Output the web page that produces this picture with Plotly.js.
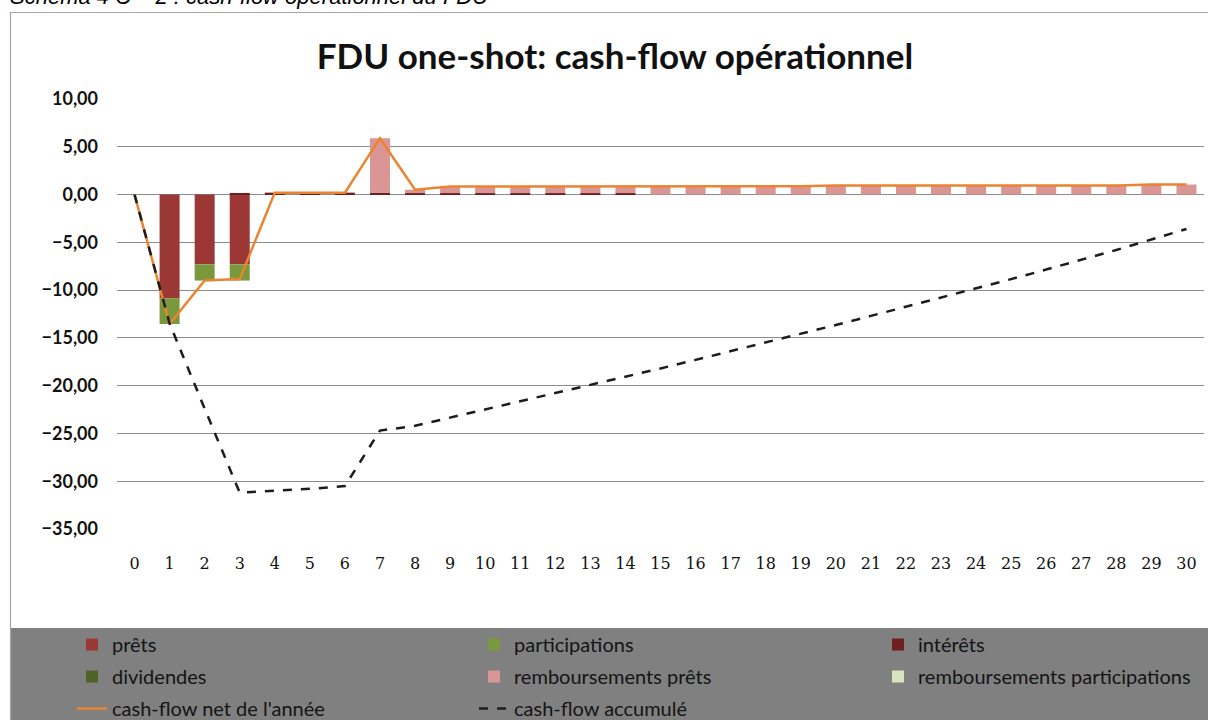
<!DOCTYPE html>
<html>
<head>
<meta charset="utf-8">
<script src="https://cdn.plot.ly/plotly-3.0.1.min.js"></script>
<style>
  html, body { margin: 0; padding: 0; background: #ffffff; }
  #chart { width: 1208px; height: 720px; }
</style>
</head>
<body>
<div id="chart"></div>
<script>
// ---- data ----
const years = [0,1,2,3,4,5,6,7,8,9,10,11,12,13,14,15,16,17,18,19,20,21,22,23,24,25,26,27,28,29,30];
const prets = [0,-10.85,-7.3,-7.3,0,0,0,0,0,0,0,0,0,0,0,0,0,0,0,0,0,0,0,0,0,0,0,0,0,0,0];
const participations = [0,-2.7,-1.7,-1.7,0,0,0,0,0,0,0,0,0,0,0,0,0,0,0,0,0,0,0,0,0,0,0,0,0,0,0];
const interets = [0,0,0,0.15,0.2,0.2,0.2,0.2,0.15,0.15,0.15,0.15,0.15,0.15,0.15,0,0,0,0,0,0,0,0,0,0,0,0,0,0,0,0];
const dividendes = [0,0,0,0,0,0,0,0,0,0,0,0,0,0,0,0,0,0,0,0,0,0,0,0,0,0,0,0,0,0,0];
const rembPrets = [0,0,0,0,0,0,0,5.7,0.35,0.7,0.7,0.7,0.7,0.7,0.7,0.85,0.85,0.85,0.85,0.85,0.92,0.92,0.92,0.92,0.92,0.92,0.92,0.92,0.92,1.05,1.05];
const rembParticipations = [0,0,0,0,0,0,0,0,0,0,0,0,0,0,0,0,0,0,0,0,0,0,0,0,0,0,0,0,0,0,0];
const cashFlowNet = [0,-13.55,-9.0,-8.85,0.2,0.2,0.2,5.9,0.5,0.85,0.85,0.85,0.85,0.85,0.85,0.87,0.87,0.87,0.87,0.87,0.95,0.95,0.95,0.95,0.95,0.95,0.95,0.95,0.95,1.05,1.05];
const cashFlowCumul = [0,-13.5,-22.4,-31.2,-31.0,-30.8,-30.5,-24.7,-24.2,-23.35,-22.5,-21.65,-20.8,-19.95,-19.1,-18.2,-17.3,-16.4,-15.5,-14.6,-13.65,-12.7,-11.75,-10.8,-9.85,-8.85,-7.85,-6.85,-5.8,-4.7,-3.6];
const yTicks = [-35,-30,-25,-20,-15,-10,-5,0,5,10];

const titleText = 'FDU one-shot: cash-flow opérationnel';
const captionText = 'Schéma 4 C – 2 : cash-flow opérationnel du FDU';

// ---- geometry helpers (page pixels -> paper coords) ----
const W = 1208, H = 720;
const M = {l: 117, r: 4, t: 99, b: 191, autoexpand: false};
const PW = W - M.l - M.r, PH = H - M.t - M.b;
const px = v => (v - M.l) / PW;
const py = v => (H - M.b - v) / PH;

const legFont = {family: 'Lato, "Open Sans", sans-serif', size: 20, color: '#141414'};

function bar(name, y, color, leg) {
  return {type: 'bar', name: name, x: years, y: y, marker: {color: color, line: {width: 0}},
          legend: leg, legendgroup: name, hoverinfo: 'x+y'};
}

const traces = [
  bar('prêts', prets, '#9B3836', 'legend'),
  bar('participations', participations, '#7A983C', 'legend2'),
  bar('intérêts', interets, '#6E1F1F', 'legend3'),
  bar('dividendes', dividendes, '#4F6228', 'legend'),
  bar('remboursements prêts', rembPrets, '#D99694', 'legend2'),
  bar('remboursements participations', rembParticipations, '#D7E4BD', 'legend3'),
  {type: 'scatter', mode: 'lines', name: "cash-flow net de l'année", x: years, y: cashFlowNet,
   line: {color: '#EB8430', width: 2.5}, legend: 'legend', legendgroup: 'net'},
  {type: 'scatter', mode: 'lines', name: 'cash-flow accumulé', x: years, y: cashFlowCumul,
   line: {color: '#1c1c1c', width: 2.5, dash: 'dash'}, legend: 'legend2', legendgroup: 'cum'}
];

function legendAt(xText) {
  return {x: px(xText - 40), y: py(625), xanchor: 'left', yanchor: 'top', orientation: 'v',
          bgcolor: 'rgba(0,0,0,0)', borderwidth: 0, font: legFont, tracegroupgap: 3,
          itemclick: false, itemdoubleclick: false};
}

const layout = {
  width: W, height: H,
  margin: M,
  paper_bgcolor: '#ffffff',
  plot_bgcolor: '#ffffff',
  separators: ', ',
  barmode: 'relative',
  bargap: 0.43,
  showlegend: true,
  title: {text: '<b>' + titleText + '</b>', x: 615 / W, xref: 'container', xanchor: 'center',
          y: 1 - 57 / H, yref: 'container', yanchor: 'middle',
          font: {family: 'Lato, "Open Sans", sans-serif', size: 35, color: '#111'}},
  xaxis: {
    type: 'linear', range: [-0.5, 30.5], tickmode: 'array', tickvals: years,
    ticktext: years.map(String), showgrid: false, zeroline: false, showline: false,
    ticks: '', ticklabelstandoff: 23,
    tickfont: {family: '"DejaVu Serif", "Liberation Serif", serif', size: 16, color: '#111'}
  },
  yaxis: {
    range: [-35, 10], tickmode: 'array', tickvals: yTicks, tickformat: '.2f',
    showgrid: true, gridcolor: '#8c8c8c', gridwidth: 1, zeroline: false, showline: false,
    ticks: '', ticklabelstandoff: 18,
    tickfont: {family: 'Lato, "Open Sans", sans-serif', size: 18, color: '#111', weight: 'bold'}
  },
  legend: legendAt(112),
  legend2: legendAt(514),
  legend3: legendAt(918),
  shapes: [
    {type: 'rect', xref: 'paper', yref: 'paper', x0: px(10), x1: px(1215), y0: py(628), y1: py(725),
     fillcolor: '#808080', line: {width: 0}, layer: 'below'},
    {type: 'rect', xref: 'paper', yref: 'paper', x0: px(10.5), x1: px(1215), y0: py(12.5), y1: py(730),
     fillcolor: 'rgba(0,0,0,0)', line: {color: '#a6a6a6', width: 1.2}, layer: 'below'}
  ],
  annotations: [
    {text: '<i>' + captionText + '</i>', xref: 'paper', yref: 'paper', x: px(8), y: py(-3),
     xanchor: 'left', yanchor: 'middle', showarrow: false,
     font: {family: '"Liberation Sans", Arial, sans-serif', size: 22, color: '#000'}}
  ]
};

Plotly.newPlot('chart', traces, layout, {displayModeBar: false, staticPlot: false});
</script>
</body>
</html>
